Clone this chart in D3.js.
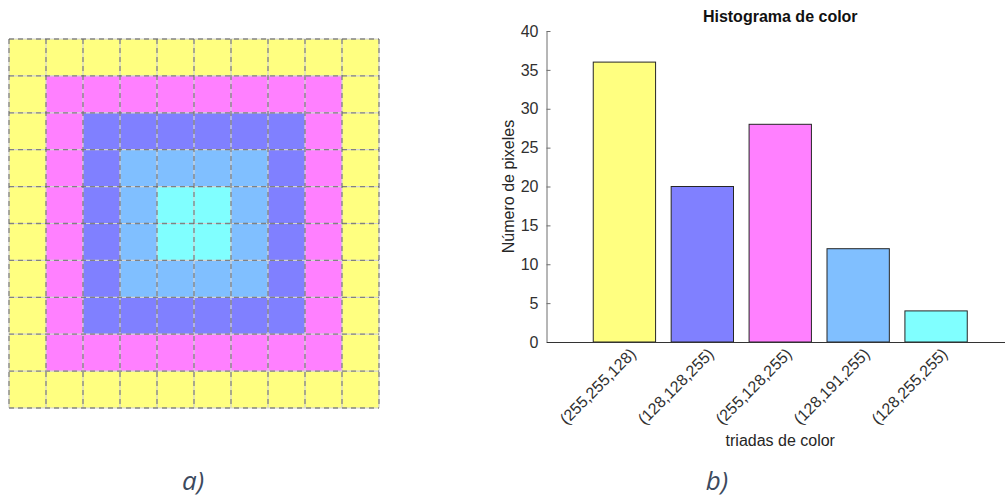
<!DOCTYPE html>
<html>
<head>
<meta charset="utf-8">
<script src="https://cdn.jsdelivr.net/npm/d3@7"></script>
<style>
  html, body { margin: 0; padding: 0; background: #fff; }
  svg { display: block; }
</style>
</head>
<body>
<svg id="chart" width="1005" height="499"></svg>
<script>
// ---------- data ----------
const categories = ["(255,255,128)", "(128,128,255)", "(255,128,255)", "(128,191,255)", "(128,255,255)"];
const counts = [36, 20, 28, 12, 4];
const colors = ["#ffff80", "#8080ff", "#ff80ff", "#80bfff", "#80ffff"];
const yTicks = [0, 5, 10, 15, 20, 25, 30, 35, 40];
// image a): color index per pixel (indices into categories/colors)
const imageRows = [
  "0000000000",
  "0222222220",
  "0211111120",
  "0213333120",
  "0213443120",
  "0213443120",
  "0213333120",
  "0211111120",
  "0222222220",
  "0000000000"
];
const titleText = "Histograma de color";
const yLabelText = "Número de pixeles";
const xLabelText = "triadas de color";
const panelLabels = ["a)", "b)"];

const svg = d3.select("#chart");

// ---------- panel a: image grid ----------
const nCols = imageRows[0].length, nRows = imageRows.length;
const gx = d3.scaleBand().domain(d3.range(nCols)).range([9, 379]);
const gy = d3.scaleBand().domain(d3.range(nRows)).range([39, 408]);
const cells = [];
imageRows.forEach((row, r) => row.split("").forEach((c, k) => cells.push({ r, c: k, v: +c })));
const gA = svg.append("g");
gA.selectAll("rect.cell").data(cells).join("rect")
  .attr("x", d => gx(d.c)).attr("y", d => gy(d.r))
  .attr("width", gx.bandwidth()).attr("height", gy.bandwidth())
  .attr("fill", d => colors[d.v]);
const vLines = d3.range(nCols + 1).map(i => i < nCols ? gx(i) : gx(nCols - 1) + gx.bandwidth());
const hLines = d3.range(nRows + 1).map(i => i < nRows ? gy(i) : gy(nRows - 1) + gy.bandwidth());
const [gx0, gx1] = gx.range(), [gy0, gy1] = gy.range();
[["#d4d4d4", null, 1.2], ["#606060", "5,4", 1.3]].forEach(([col, dash, w]) => {
  gA.selectAll(null).data(vLines).join("line")
    .attr("x1", d => d).attr("x2", d => d).attr("y1", gy0).attr("y2", gy1)
    .attr("stroke", col).attr("stroke-width", w).attr("stroke-dasharray", dash)
    .attr("stroke-opacity", dash ? 0.7 : 1);
  gA.selectAll(null).data(hLines).join("line")
    .attr("y1", d => d).attr("y2", d => d).attr("x1", gx0).attr("x2", gx1)
    .attr("stroke", col).attr("stroke-width", w).attr("stroke-dasharray", dash)
    .attr("stroke-opacity", dash ? 0.7 : 1);
});

// ---------- panel b: histogram ----------
const x = d3.scaleLinear().domain([0, categories.length + 1]).range([546.5, 1014]);
const y = d3.scaleLinear().domain([0, 40]).range([342, 31]);
const barW = 0.8;
const gB = svg.append("g").attr("font-family", "Liberation Sans, Arial, sans-serif");

gB.selectAll("rect.bar").data(counts).join("rect")
  .attr("x", (d, i) => x(i + 1 - barW / 2))
  .attr("y", d => y(d))
  .attr("width", x(barW) - x(0))
  .attr("height", d => y(0) - y(d))
  .attr("fill", (d, i) => colors[i])
  .attr("stroke", "#262626").attr("stroke-width", 1);

// y axis
const yAxis = gB.append("g").attr("transform", `translate(${x(0)},0)`)
  .call(d3.axisLeft(y).tickValues(yTicks).tickSizeInner(-4).tickSizeOuter(0).tickPadding(8));
yAxis.select(".domain").attr("stroke", "#6e6e6e");
yAxis.selectAll(".tick line").attr("stroke", "#6e6e6e");
yAxis.selectAll(".tick text").attr("fill", "#303030").attr("font-size", 16);

// x axis
const xAxis = gB.append("g").attr("transform", `translate(0,${y(0)})`)
  .call(d3.axisBottom(x).tickValues(d3.range(1, categories.length + 1))
    .tickFormat(i => categories[i - 1]).tickSizeInner(0).tickSizeOuter(0).tickPadding(0));
xAxis.select(".domain").attr("stroke", "#333");
xAxis.selectAll(".tick text")
  .attr("fill", "#303030").attr("font-size", 16)
  .attr("text-anchor", "end")
  .attr("dy", null).attr("y", 0)
  .attr("transform", "translate(12,13) rotate(-45)");

// title and labels
gB.append("text").attr("x", (x(0) + x(categories.length + 1)) / 2).attr("y", 22)
  .attr("text-anchor", "middle").attr("font-weight", "bold").attr("font-size", 16)
  .attr("fill", "#111").text(titleText);
gB.append("text").attr("transform", `translate(514,${(y(0) + y(40)) / 2}) rotate(-90)`)
  .attr("text-anchor", "middle").attr("font-size", 16).attr("fill", "#262626").text(yLabelText);
gB.append("text").attr("x", (x(0) + x(categories.length + 1)) / 2).attr("y", 446)
  .attr("text-anchor", "middle").attr("font-size", 16).attr("fill", "#262626").text(xLabelText);

// panel labels
svg.selectAll("text.panel").data(panelLabels).join("text")
  .attr("class", "panel")
  .attr("x", (d, i) => [193, 717][i]).attr("y", 490)
  .attr("text-anchor", "middle")
  .attr("font-family", "Open Sans, DejaVu Sans, sans-serif")
  .attr("font-style", "italic").attr("font-size", 26)
  .attr("fill", "#3c4a5e").text(d => d);
</script>
</body>
</html>
